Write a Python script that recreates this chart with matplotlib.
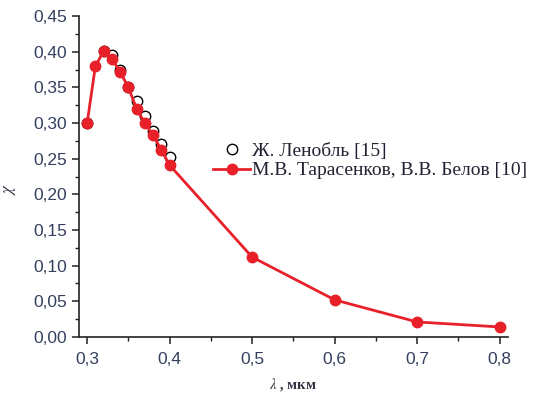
import matplotlib
matplotlib.use("Agg")
import matplotlib.pyplot as plt
from matplotlib.ticker import MultipleLocator, FuncFormatter

plt.rcParams["mathtext.fontset"] = "stix"

# Data
lenoble_x = [0.30, 0.32, 0.33, 0.34, 0.35, 0.36, 0.37, 0.38, 0.39, 0.40]
lenoble_y = [0.300, 0.401, 0.396, 0.375, 0.350, 0.331, 0.310, 0.289, 0.271, 0.253]

tb_x = [0.30, 0.31, 0.32, 0.33, 0.34, 0.35, 0.36, 0.37, 0.38, 0.39, 0.40, 0.50, 0.60, 0.70, 0.80]
tb_y = [0.300, 0.380, 0.401, 0.390, 0.372, 0.350, 0.320, 0.300, 0.283, 0.262, 0.241, 0.112, 0.052, 0.021, 0.014]

label_lenoble = "Ж. Ленобль [15]"
label_tb = "М.В. Тарасенков, В.В. Белов [10]"
xlabel = r"$\lambda$ , мкм"
ylabel = r"$\chi$"

tick_color = "#34405e"
red = "#e8202a"

fig = plt.figure(figsize=(5.33, 3.95), dpi=100)
ax = fig.add_axes([0.148, 0.147, 0.805, 0.812])

ax.plot(lenoble_x, lenoble_y, linestyle="none", marker="o", markersize=7.5,
        markerfacecolor="white", markeredgecolor="black", markeredgewidth=1.0,
        label=label_lenoble, zorder=2)
ax.plot(tb_x, tb_y, color=red, linewidth=2.0, marker="o", markersize=7.5,
        markerfacecolor=red, markeredgecolor=red, label=label_tb, zorder=3,
        clip_on=False)

ax.set_xlim(0.29, 0.81)
ax.set_ylim(0.0, 0.45)

for s in ["top", "right"]:
    ax.spines[s].set_visible(False)
for s in ["left", "bottom"]:
    ax.spines[s].set_linewidth(1.2)
    ax.spines[s].set_color("#222222")

ax.xaxis.set_major_locator(MultipleLocator(0.1))
ax.xaxis.set_minor_locator(MultipleLocator(0.05))
ax.yaxis.set_major_locator(MultipleLocator(0.05))
ax.yaxis.set_minor_locator(MultipleLocator(0.025))

ax.xaxis.set_major_formatter(FuncFormatter(lambda v, p: f"{v:.1f}".replace(".", ",")))
ax.yaxis.set_major_formatter(FuncFormatter(lambda v, p: f"{v:.2f}".replace(".", ",")))

ax.tick_params(which="major", direction="out", length=5, width=1.1, color="#222222",
               labelsize=12.5, labelcolor=tick_color)
ax.tick_params(axis="x", which="major", pad=6)
ax.tick_params(which="minor", direction="out", length=3, width=1.0, color="#222222")
for lab in ax.get_xticklabels() + ax.get_yticklabels():
    lab.set_family("Liberation Sans")

ax.set_xlabel(xlabel, family="Liberation Serif", fontsize=10.5, fontweight="bold",
              color="#333344")
ax.xaxis.set_label_coords(0.5, -0.122)
ax.set_ylabel(ylabel, family="Liberation Serif", fontsize=12,
              color="#333344")
ax.yaxis.set_label_coords(-0.142, 0.46)

leg = fig.legend(loc="upper left", bbox_to_anchor=(0.40, 0.64), frameon=False,
                 prop={"family": "Liberation Serif", "size": 14},
                 handlelength=1.9, handletextpad=0.1, labelspacing=0.1,
                 borderaxespad=0, borderpad=0)
for t in leg.get_texts():
    t.set_color("#222233")

fig.savefig("out.png", dpi=100)
